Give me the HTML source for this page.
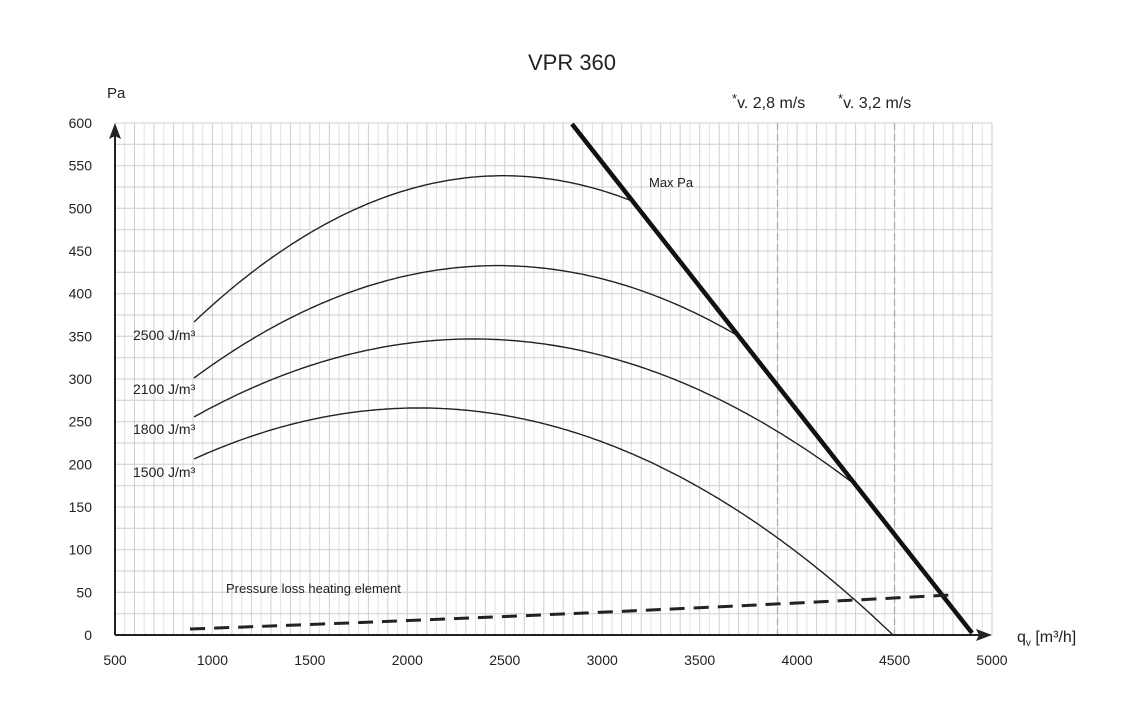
<!DOCTYPE html>
<html><head><meta charset="utf-8"><style>
body{margin:0;background:#fff}
svg{display:block;font-family:"Liberation Sans",sans-serif}
</style></head><body>
<svg id="s" width="1144" height="724" xmlns="http://www.w3.org/2000/svg">
<g id="grid"></g>
<line x1="777.5" y1="123" x2="777.5" y2="635" stroke="#aaa" stroke-width="1.2" stroke-dasharray="7,4"/>
<line x1="894.5" y1="123" x2="894.5" y2="635" stroke="#aaa" stroke-width="1.2" stroke-dasharray="7,4"/>
<line x1="115" y1="635" x2="980" y2="635" stroke="#222" stroke-width="2"/>
<polygon points="992,635 976,629 979,635 976,641" fill="#222"/>
<line x1="115" y1="635" x2="115" y2="136" stroke="#222" stroke-width="2"/>
<polygon points="115,123 109,139 115,136 121,139" fill="#222"/>
<g id="curves" fill="none" stroke="#222" stroke-width="1.4"></g>
<line x1="572" y1="124" x2="972" y2="633" stroke="#111" stroke-width="4.5"/>
<path d="M190,629 Q600,614 950,595" fill="none" stroke="#222" stroke-width="3" stroke-dasharray="15,9"/>
<g font-size="14" fill="#222">
<text x="572" y="70" font-size="22" text-anchor="middle">VPR 360</text>
<text x="107" y="98" font-size="15">Pa</text>
<text x="732" y="108" font-size="16"><tspan font-size="13" dy="-5">*</tspan><tspan dy="5">v. 2,8 m/s</tspan></text>
<text x="838" y="108" font-size="16"><tspan font-size="13" dy="-5">*</tspan><tspan dy="5">v. 3,2 m/s</tspan></text>
<text x="649" y="187" font-size="13">Max Pa</text>
<text x="226" y="593" font-size="13">Pressure loss heating element</text>
<text x="133" y="340">2500 J/m³</text>
<text x="133" y="394">2100 J/m³</text>
<text x="133" y="434">1800 J/m³</text>
<text x="133" y="477">1500 J/m³</text>
<text x="1017" y="642" font-size="16">q<tspan font-size="10" dy="4">v</tspan><tspan dy="-4"> [m³/h]</tspan></text>
<g id="labels"></g>
</g>
</svg>
<script>
function X(v){return 115+(v-500)*0.19489}
function Y(v){return 635-v*0.85333}
var g=document.getElementById('grid'),h='';
for(var v=500;v<=5000;v+=50){var x=X(v).toFixed(1);h+='<line x1="'+x+'" y1="123" x2="'+x+'" y2="635" stroke="'+(v%100==0?'#cfcfcf':'#e2e2e2')+'" stroke-width="1"/>';}
for(var p=0;p<=600;p+=25){var y=Y(p).toFixed(1);h+='<line x1="115" y1="'+y+'" x2="992" y2="'+y+'" stroke="#cfcfcf" stroke-width="1"/>';}
g.innerHTML=h;
var l='';
for(var v=500;v<=5000;v+=500)l+='<text x="'+X(v)+'" y="665" text-anchor="middle">'+v+'</text>';
for(var p=0;p<=600;p+=50)l+='<text x="92" y="'+(Y(p)+5)+'" text-anchor="end">'+p+'</text>';
document.getElementById('labels').innerHTML=l;
function quad(a,b,c){return function(x){
 var x0=a[0],y0=a[1],x1=b[0],y1=b[1],x2=c[0],y2=c[1];
 return y0*(x-x1)*(x-x2)/((x0-x1)*(x0-x2))+y1*(x-x0)*(x-x2)/((x1-x0)*(x1-x2))+y2*(x-x0)*(x-x1)/((x2-x0)*(x2-x1));}}
var cs=[[[194,322],[490,176],[632,201]],[[194,378],[480,266],[740,337]],[[194,417],[470,339],[862,490]],[[194,459],[425,408],[893,635]]];
var ch='';
cs.forEach(function(c){var end=c[2][0];var f=quad(c[0],c[1],c[2]);var pts=[];
 for(var x=c[0][0];x<end;x+=3)pts.push(x+','+f(x).toFixed(1));
 pts.push(c[2][0]+','+c[2][1]);
 ch+='<polyline points="'+pts.join(' ')+'"/>';});
document.getElementById('curves').innerHTML=ch;
</script>
</body></html>
